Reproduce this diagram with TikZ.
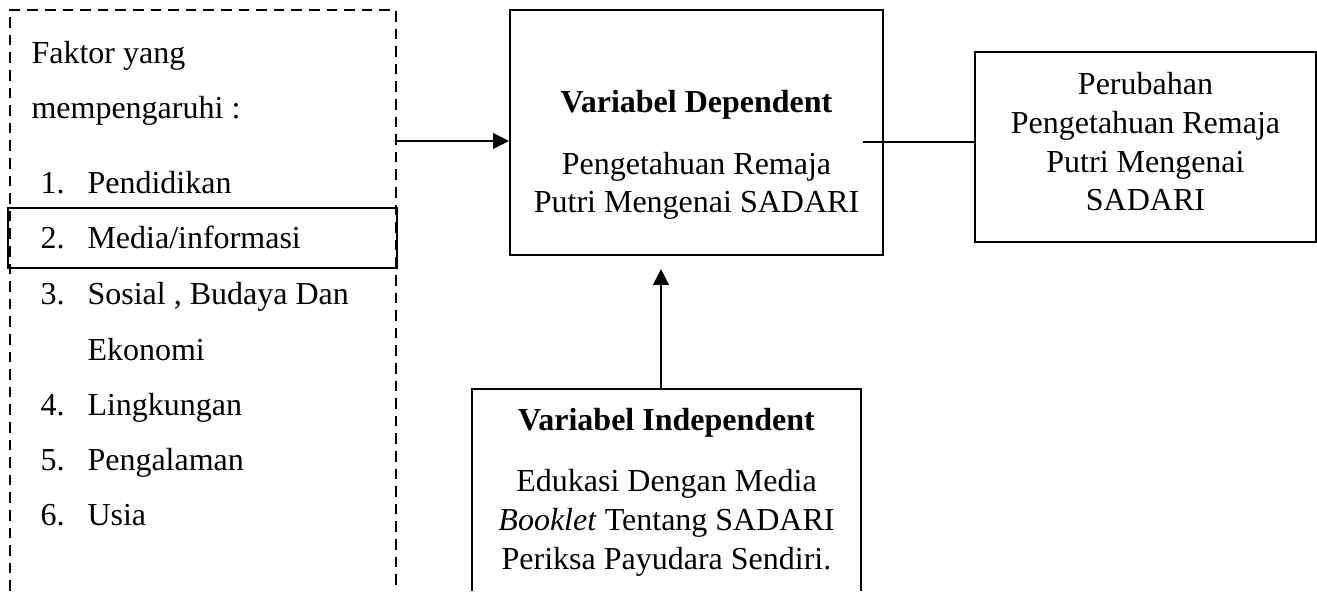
\documentclass[12pt,tikz,border=0pt]{standalone}
\usepackage{fontspec}
\setmainfont{Liberation Serif}
\usetikzlibrary{arrows.meta, positioning, calc}

\begin{document}
\begin{tikzpicture}[x=0.375pt,y=-0.375pt,
  box/.style={draw, line width=0.8pt, inner sep=0pt},
  dashframe/.style={line width=0.75pt, dash pattern=on 4pt off 2.6pt},
  conn/.style={line width=0.45pt},
  arr/.style={conn, -{Triangle[length=5.9pt,width=5.9pt]}},
  txt/.style={align=center, inner sep=0pt}]

\useasboundingbox (0,0) rectangle (1317,591);

% PARAMETERS
\def\px{0.375pt}   % one pixel of the layout grid

% ------------------------
% Left: factors (dashed frame, open at bottom)
% ------------------------
\draw[dashframe] (10,591) -- (10,10) -- (396,10) -- (396,591);

\node[txt, anchor=base west] (faktor) at (31,63) {Faktor yang};
\node[txt, anchor=base west] (pengaruh) at (31,118) {mempengaruhi :};

% Numbered factors
\foreach \n/\y/\t in {1/193/Pendidikan, 2/248/{Media/informasi},
                      3/304/{Sosial , Budaya Dan}, 4/415/Lingkungan,
                      5/470/Pengalaman, 6/525/Usia} {
  \node[txt, anchor=base west] (num\n) at (40,\y) {\n.};
  \node[txt, anchor=base west] (item\n) at (87,\y) {\t};
}
\node[txt, anchor=base west] (item3b) at (87,360) {Ekonomi};

% Framed factor 2
\node[box, minimum width={389*\px}, minimum height={60*\px}]
  (mediabox) at (202.5,238) {};

% ------------------------
% Dependent variable
% ------------------------
\node[box, minimum width={373*\px}, minimum height={245*\px}]
  (dep) at (696.5,132.5) {};
\node[txt, anchor=base, font=\bfseries] (deptitle) at (696.5,112)
  {Variabel Dependent};
\node[txt] (deptext) at (696.5,186)
  {Pengetahuan Remaja\\Putri Mengenai SADARI};

% ------------------------
% Outcome
% ------------------------
\node[box, minimum width={341*\px}, minimum height={190*\px}]
  (perubahan) at (1145.5,147) {};
\node[txt] (perubahantext) at (1145.5,142)
  {Perubahan\\Pengetahuan Remaja\\Putri Mengenai\\SADARI};

% ------------------------
% Independent variable (open at bottom)
% ------------------------
\draw[box] (472,591) -- (472,389) -- (861,389) -- (861,591);
\node[txt, anchor=base, font=\bfseries] (indtitle) at (666.5,430)
  {Variabel Independent};
\node[txt] (indtext) at (666.5,523)
  {Edukasi Dengan Media\\\textit{Booklet} Tentang SADARI\\Periksa Payudara Sendiri.};

% ------------------------
% Connectors
% ------------------------
\coordinate (fakout) at (397,141);
\draw[arr] (fakout) -- (fakout -| dep.west);

\coordinate (depout) at (863,142);
\draw[conn] (depout) -- (depout -| perubahan.west);

\coordinate (indin) at (661,389);
\draw[arr] (indin) -- ($(dep.south -| indin)+(0,13)$);

\end{tikzpicture}
\end{document}
